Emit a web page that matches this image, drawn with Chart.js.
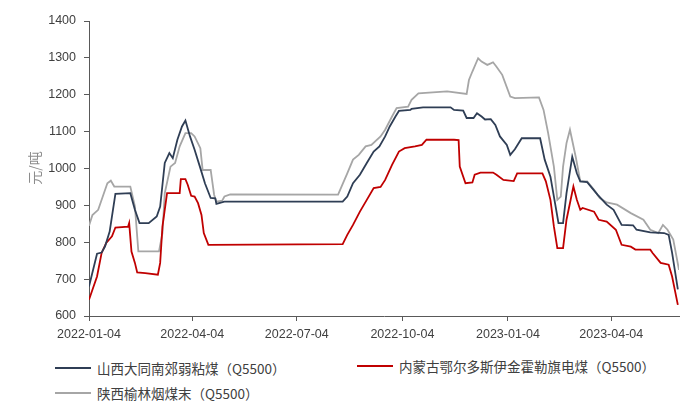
<!DOCTYPE html>
<html>
<head>
<meta charset="utf-8">
<script src="https://cdn.jsdelivr.net/npm/chart.js@4.4.1/dist/chart.umd.min.js"></script>
<style>
  html, body { margin: 0; padding: 0; background: #fff; }
  #wrap { position: relative; width: 700px; height: 420px; }
  #chartBox { position: absolute; left: 0; top: 0; width: 700px; height: 345px; }
  .lg-item { position: absolute; display: flex; align-items: center; font: 13.5px "Noto Sans CJK SC", "Noto Sans", sans-serif; color: #404040; white-space: nowrap; }
  .lg-line { display: inline-block; width: 36px; height: 2px; margin-right: 6px; }
</style>
</head>
<body>
<div id="wrap">
  <div id="chartBox"><canvas id="coalChart"></canvas></div>
  <div class="lg-item" style="left:55px;top:358px"><span class="lg-line" style="background:#2f3e55"></span>山西大同南郊弱粘煤（Q5500）</div>
  <div class="lg-item" style="left:357px;top:356px"><span class="lg-line" style="background:#c00000"></span>内蒙古鄂尔多斯伊金霍勒旗电煤（Q5500）</div>
  <div class="lg-item" style="left:55px;top:383px"><span class="lg-line" style="background:#a6a6a6"></span>陕西榆林烟煤末（Q5500）</div>
</div>
<script>
// ── Data (x = days since 2022-01-04) ──────────────────────────────────────────
const tickDays   = [0, 90, 181, 273, 365, 455];
const tickLabels = ['2022-01-04', '2022-04-04', '2022-07-04', '2022-10-04', '2023-01-04', '2023-04-04'];

const shanxiDays  = [0, 7, 11, 14, 18, 23, 36, 40, 44, 52, 59, 62, 66, 70, 73, 77, 81, 84, 88, 92, 97, 101, 106, 110, 111, 118, 221, 225, 230, 236, 242, 248, 253, 258, 262, 267, 270, 280, 281, 291, 315, 318, 326, 329, 335, 338, 342, 345, 350, 354, 358, 364, 367, 371, 377, 393, 397, 402, 406, 409, 413, 416, 421, 425, 428, 434, 443, 451, 457, 464, 474, 477, 489, 501, 505, 508, 513];
const shanxiPrice = [680, 769, 772, 789, 829, 931, 933, 888, 852, 852, 870, 897, 1015, 1042, 1028, 1078, 1114, 1130, 1087, 1051, 1001, 960, 920, 919, 904, 910, 910, 924, 960, 983, 1015, 1046, 1060, 1087, 1114, 1141, 1156, 1159, 1162, 1166, 1166, 1159, 1157, 1137, 1137, 1150, 1141, 1133, 1134, 1118, 1087, 1064, 1037, 1052, 1082, 1082, 1024, 978, 906, 852, 852, 933, 1032, 987, 965, 963, 929, 902, 888, 847, 846, 834, 827, 825, 820, 771, 672];

const neimengDays  = [0, 3, 7, 11, 15, 20, 23, 34, 35, 37, 40, 42, 49, 60, 62, 64, 68, 79, 80, 84, 86, 89, 92, 95, 98, 100, 104, 221, 225, 230, 236, 242, 248, 254, 258, 264, 270, 275, 284, 290, 294, 318, 322, 323, 328, 334, 336, 341, 352, 355, 361, 370, 373, 395, 398, 402, 405, 408, 413, 416, 422, 425, 428, 430, 440, 444, 451, 459, 464, 472, 476, 489, 491, 498, 505, 508, 513];
const neimengPrice = [644, 671, 707, 771, 798, 816, 840, 842, 852, 775, 744, 718, 716, 712, 744, 843, 933, 933, 971, 971, 956, 926, 924, 906, 874, 825, 793, 795, 820, 847, 883, 915, 947, 950, 969, 1010, 1046, 1055, 1060, 1064, 1078, 1078, 1077, 1005, 960, 962, 983, 989, 989, 983, 969, 966, 987, 987, 965, 915, 843, 784, 784, 861, 951, 915, 888, 893, 883, 861, 856, 834, 793, 788, 780, 780, 771, 744, 739, 707, 630];

const shaanxiDays  = [0, 3, 8, 12, 16, 19, 22, 36, 40, 43, 61, 64, 66, 71, 75, 79, 84, 89, 92, 97, 99, 106, 109, 111, 116, 118, 123, 217, 220, 225, 230, 235, 241, 246, 254, 258, 264, 268, 278, 281, 287, 312, 329, 331, 334, 339, 342, 347, 350, 352, 355, 360, 367, 371, 392, 396, 400, 405, 408, 411, 413, 416, 419, 424, 428, 434, 440, 445, 451, 460, 472, 483, 489, 496, 500, 504, 509, 514];
const shaanxiPrice = [845, 874, 888, 924, 960, 967, 951, 951, 897, 775, 775, 825, 933, 1005, 1015, 1060, 1096, 1096, 1087, 1055, 996, 996, 929, 910, 913, 924, 930, 929, 951, 987, 1024, 1037, 1060, 1064, 1087, 1105, 1141, 1164, 1168, 1186, 1204, 1209, 1202, 1240, 1263, 1299, 1290, 1281, 1285, 1288, 1276, 1254, 1195, 1191, 1193, 1159, 1096, 1005, 915, 924, 1005, 1069, 1105, 1032, 965, 965, 942, 920, 908, 902, 879, 861, 834, 825, 847, 834, 807, 725];

(function () {
  'use strict';

  const pts = (days, vals) => days.map((d, i) => ({ x: d, y: vals[i] }));
  const axisColor = '#595959';
  const tickFont  = { family: '"Liberation Sans", "Noto Sans", sans-serif', size: 12.5 };

  // ── Y axis title drawn by hand ──────────────────────────────────────────────
  const yTitle = {
    id: 'yTitle',
    afterDraw(chart) {
      const c = chart.ctx;
      c.save();
      c.translate(35, 168);
      c.rotate(-Math.PI / 2);
      c.font = '14px "Noto Sans CJK SC", sans-serif';
      c.fillStyle = '#8c8c8c';
      c.textAlign = 'center';
      c.textBaseline = 'middle';
      c.fillText('元/吨', 0, 0);
      c.restore();
    }
  };

  const line = (data, color) => ({
    data, borderColor: color, borderWidth: 1.8, pointRadius: 0, tension: 0, fill: false
  });

  new Chart(document.getElementById('coalChart'), {
    type: 'line',
    data: {
      datasets: [
        line(pts(shanxiDays, shanxiPrice), '#2f3e55'),
        line(pts(neimengDays, neimengPrice), '#c00000'),
        line(pts(shaanxiDays, shaanxiPrice), '#a6a6a6')
      ]
    },
    options: {
      responsive: true,
      maintainAspectRatio: false,
      animation: false,
      layout: { padding: { top: 21, right: 21, left: 0, bottom: 0 } },
      plugins: { legend: { display: false }, tooltip: { enabled: false } },
      scales: {
        x: {
          type: 'linear', min: 0, max: 514,
          afterBuildTicks: s => { s.ticks = tickDays.map(v => ({ value: v })); },
          afterFit: s => { s.height = 29; },
          ticks: {
            autoSkip: false, maxRotation: 0, padding: 6, color: '#404040', font: tickFont,
            callback: v => tickLabels[tickDays.indexOf(v)]
          },
          grid: { drawOnChartArea: false, drawTicks: true, tickLength: 5, color: axisColor },
          border: { color: axisColor, width: 1 }
        },
        y: {
          min: 600, max: 1400,
          afterFit: s => { s.width = 89; },
          ticks: { stepSize: 100, padding: 8, color: '#404040', font: tickFont, callback: v => String(v) },
          grid: { drawOnChartArea: false, drawTicks: true, tickLength: 5, color: axisColor },
          border: { color: axisColor, width: 1 }
        }
      }
    },
    plugins: [yTitle]
  });
})();
</script>
</body>
</html>
